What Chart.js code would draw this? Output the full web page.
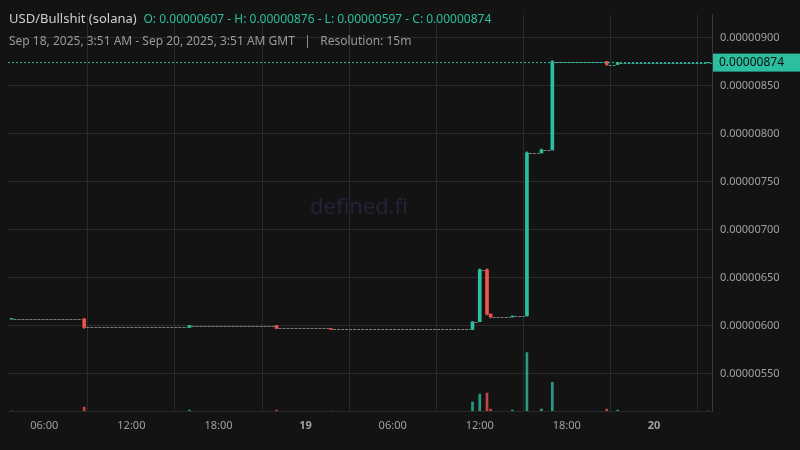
<!DOCTYPE html>
<html><head><meta charset="utf-8">
<script src="https://cdn.jsdelivr.net/npm/chart.js@4"></script>
<style>
body{margin:0;background:#131313;font-family:"Noto Sans",sans-serif;}
#wrap{position:relative;width:800px;height:450px;}
#hdr{position:absolute;left:9px;top:9px;font-size:13px;color:#d0d0d0;white-space:nowrap}
#hdr span{color:#2bbf9f;font-size:12px}
#sub{position:absolute;left:9px;top:32px;font-size:12px;color:#9a9a9a;white-space:nowrap}
#wm{position:absolute;left:310px;top:190px;font-size:22px;color:#23233a;}
</style></head><body>
<div id="wrap"><canvas id="c" width="800" height="450"></canvas>
<div id="wm">defined.fi</div>
<div id="hdr">USD/Bullshit (solana)&nbsp; <span>O: 0.00000607 - H: 0.00000876 - L: 0.00000597 - C: 0.00000874</span></div>
<div id="sub">Sep 18, 2025, 3:51 AM - Sep 20, 2025, 3:51 AM GMT &nbsp; | &nbsp; Resolution: 15m</div>
</div>
<script>
// hours since Sep 18 00:00 GMT; prices in units of 1e-8
const times  = [3.75, 8.75, 16.0, 22.0, 25.75, 35.5, 36.0, 36.5, 36.75, 38.25, 39.25, 40.25, 41.0, 44.75, 45.5, 51.75];
const opens  = [607, 607, 598, 600, 597, 596, 604, 658, 612, 609, 610, 780, 783, 875, 872, 874];
const closes = [607, 598, 600, 597, 596, 604, 658, 612, 609, 610, 780, 783, 875, 872, 874, 874];
const highs  = [607, 607, 600, 600, 597, 604, 659, 659, 612, 610, 781, 784, 876, 875, 874, 874];
const lows   = [607, 597, 598, 597, 596, 596, 604, 611, 608, 609, 610, 780, 783, 871, 872, 874];
const volumes= [0, 4, 1, 1, 0, 9, 17, 18, 2, 1, 59, 2, 29, 2, 1, 0];
const lastPrice = 874;
const tickNames = {6:"06:00",12:"12:00",18:"18:00",24:"19",30:"06:00",36:"12:00",42:"18:00",48:"20"};

const G='#2bbf9f', R='#ef5350';
const col = times.map((t,i)=>closes[i]>=opens[i]?G:R);
const body = times.map((t,i)=>{const o=opens[i],c=closes[i];return {x:t,y:o===c?[o-0.4,o+0.4]:[o,c]};});
const wick = times.map((t,i)=>({x:t,y:[lows[i],highs[i]]}));
const vol = times.map((t,i)=>({x:t,y:volumes[i]}));
const fmt=v=>(v/1e8).toFixed(8);

const flats={id:'flats',beforeDatasetsDraw(ch){
  const {ctx,chartArea:a,scales:{x,y}}=ch;ctx.save();ctx.lineWidth=1;ctx.setLineDash([3,1]);
  for(let i=0;i<times.length;i++){
    const x0=x.getPixelForValue(times[i])+2, x1=i+1<times.length?x.getPixelForValue(times[i+1])-2:a.right;
    const py=Math.round(y.getPixelForValue(closes[i]))+0.5;
    ctx.strokeStyle=closes[i]>800?'#3f9e88':'#7d7d7d';
    ctx.beginPath();ctx.moveTo(x0,py);ctx.lineTo(x1,py);ctx.stroke();}
  ctx.restore();}};
const lastLine={id:'last',afterDatasetsDraw(ch){
  const {ctx,chartArea:a,scales:{y}}=ch;const py=y.getPixelForValue(lastPrice);
  ctx.save();ctx.strokeStyle=G;ctx.setLineDash([2,2]);ctx.lineWidth=1;
  ctx.beginPath();ctx.moveTo(a.left,py);ctx.lineTo(a.right,py);ctx.stroke();
  ctx.setLineDash([]);ctx.fillStyle=G;ctx.fillRect(a.right+1,py-9,88,18);
  ctx.fillStyle='#0d0d0d';ctx.font='12px "Noto Sans"';ctx.textBaseline='middle';
  ctx.fillText(fmt(lastPrice),a.right+7,py);ctx.restore();}};

new Chart(document.getElementById('c'),{
 type:'bar',
 data:{datasets:[
  {data:vol,yAxisID:'yv',backgroundColor:col.map(c=>c===G?'rgba(43,191,159,0.8)':'rgba(239,83,80,0.8)'),barThickness:2,grouped:false,order:4},
  {data:wick,yAxisID:'y',backgroundColor:col,barThickness:1,grouped:false,order:2},
  {data:body,yAxisID:'y',backgroundColor:col,barThickness:3,grouped:false,order:1}
 ]},
 options:{responsive:false,animation:false,
  layout:{padding:{left:8,top:10,right:0,bottom:0}},
  plugins:{legend:{display:false},tooltip:{enabled:false}},
  scales:{
   x:{type:'linear',min:3.5,max:52,offset:false,
      grid:{color:'#2a2a2a',drawTicks:false},border:{color:'#2a2a2a'},
      afterBuildTicks(s){s.ticks=[6,12,18,24,30,36,42,48].map(v=>({value:v}));},
      afterFit(s){s.height=39;},
      ticks:{padding:8,color:'#a0a0a0',font:(c)=>({family:'Noto Sans',size:11,weight:(c.tick&&(c.tick.value===24||c.tick.value===48))?'bold':'normal'}),
        callback:v=>tickNames[v]||''}},
   y:{position:'right',min:511,max:924,
      grid:{color:'#2a2a2a',drawTicks:false},border:{color:'#3a3a3a'},
      afterBuildTicks(s){s.ticks=[550,600,650,700,750,800,850,900].map(v=>({value:v}));},
      afterFit(s){s.width=88;},
      ticks:{padding:8,color:'#a0a0a0',font:{family:'Noto Sans',size:11},callback:v=>fmt(v)}},
   yv:{display:false,min:0,max:400}
  }},
 plugins:[flats,lastLine]
});
</script></body></html>
